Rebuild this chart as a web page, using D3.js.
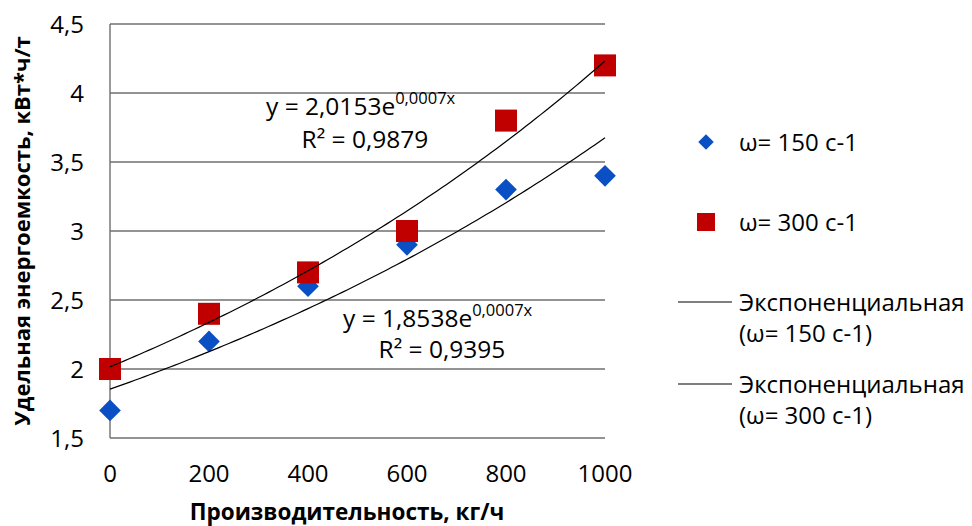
<!DOCTYPE html>
<meta charset="utf-8">
<html>
<head>
<style>
  body { margin: 0; background: #fff; }
  svg text { font-family: "Open Sans", "Noto Sans", sans-serif; fill: #000; }
</style>
</head>
<body>
<div id="chart"></div>
<script src="https://d3js.org/d3.v7.min.js"></script>
<script>

// data
var xValues = [0, 200, 400, 600, 800, 1000];
var w150 = [1.7, 2.2, 2.6, 2.9, 3.3, 3.4];
var w300 = [2.0, 2.4, 2.7, 3.0, 3.8, 4.2];
var yTicks = [1.5, 2, 2.5, 3, 3.5, 4, 4.5];
var xTicks = [0, 200, 400, 600, 800, 1000];
var label150 = ["y = 1,8538e", "0,0007x", "R² = 0,9395"];
var label300 = ["y = 2,0153e", "0,0007x", "R² = 0,9879"];
var legendNames = ["ω= 150 с-1", "ω= 300 с-1", ["Экспоненциальная", "(ω= 150 с-1)"], ["Экспоненциальная", "(ω= 300 с-1)"]];

var W = 972, H = 526;
var plotL = 110, plotR = 605, plotT = 24, plotB = 438;

var svg = d3.select("#chart").append("svg")
    .attr("width", W)
    .attr("height", H);

var x = d3.scaleLinear().domain([0, 1000]).range([plotL, plotR]);
var y = d3.scaleLinear().domain([1.5, 4.5]).range([plotB, plotT]);

// gridlines
svg.append("g")
  .selectAll("line")
  .data(yTicks)
  .enter().append("line")
    .attr("x1", plotL).attr("x2", plotR)
    .attr("y1", function(d) { return y(d); })
    .attr("y2", function(d) { return y(d); })
    .attr("stroke", "#6f6f6f")
    .attr("stroke-width", 1.4);

// left axis line
svg.append("line")
  .attr("x1", plotL).attr("x2", plotL)
  .attr("y1", plotT).attr("y2", plotB)
  .attr("stroke", "#6f6f6f")
  .attr("stroke-width", 1.4);

// y tick labels
svg.append("g")
  .selectAll("text")
  .data(yTicks)
  .enter().append("text")
    .attr("x", 84)
    .attr("y", function(d) { return y(d); })
    .attr("dy", "0.36em")
    .attr("text-anchor", "end")
    .style("font-size", "24px")
    .text(function(d) { return String(d).replace(".", ","); });

// x tick labels
svg.append("g")
  .selectAll("text")
  .data(xTicks)
  .enter().append("text")
    .attr("x", function(d) { return x(d); })
    .attr("y", 482)
    .attr("text-anchor", "middle")
    .style("font-size", "24px")
    .text(function(d) { return d; });

// axis titles
svg.append("text")
  .attr("x", 347)
  .attr("y", 520)
  .attr("text-anchor", "middle")
  .style("font-size", "22.5px")
  .style("font-weight", "bold")
  .text("Производительность, кг/ч");

svg.append("text")
  .attr("transform", "translate(30," + ((plotT + plotB) / 2) + ") rotate(-90)")
  .attr("text-anchor", "middle")
  .style("font-size", "22px")
  .style("font-weight", "bold")
  .text("Удельная энергоемкость, кВт*ч/т");

// markers
var diamond = d3.symbol().type(d3.symbolSquare).size(235);
svg.append("g")
  .selectAll("path")
  .data(w150)
  .enter().append("path")
    .attr("d", diamond)
    .attr("transform", function(d, i) { return "translate(" + x(xValues[i]) + "," + y(d) + ") rotate(45)"; })
    .attr("fill", "#0a4fc4");

svg.append("g")
  .selectAll("rect")
  .data(w300)
  .enter().append("rect")
    .attr("x", function(d, i) { return x(xValues[i]) - 11; })
    .attr("y", function(d) { return y(d) - 11; })
    .attr("width", 22)
    .attr("height", 22)
    .attr("fill", "#c00000");

// exponential trendlines, fitted from the points like the spreadsheet does
function expFit(xs, ys) {
  var ly = ys.map(function(v) { return Math.log(v); });
  var mx = d3.mean(xs), my = d3.mean(ly);
  var sxy = d3.sum(xs, function(v, i) { return (v - mx) * (ly[i] - my); });
  var sxx = d3.sum(xs, function(v) { return (v - mx) * (v - mx); });
  var b = sxy / sxx;
  var a = Math.exp(my - b * mx);
  return function(t) { return a * Math.exp(b * t); };
}

var steps = d3.range(0, 1001, 10);
[w150, w300].forEach(function(series) {
  var f = expFit(xValues, series);
  svg.append("path")
    .datum(steps)
    .attr("fill", "none")
    .attr("stroke", "#000")
    .attr("stroke-width", 1.2)
    .attr("d", d3.line()
      .x(function(d) { return x(d); })
      .y(function(d) { return y(f(d)); }));
});

// equation labels
function eqLabel(lines, x0, y0, x1, y1) {
  var t = svg.append("text")
    .attr("x", x0).attr("y", y0)
    .style("font-size", "24.5px");
  t.append("tspan").text(lines[0]);
  t.append("tspan")
    .attr("dy", -11)
    .style("font-size", "16.5px")
    .text(lines[1]);
  svg.append("text")
    .attr("x", x1).attr("y", y1)
    .attr("text-anchor", "middle")
    .style("font-size", "24.5px")
    .text(lines[2]);
}
eqLabel(label300, 266, 115, 365, 148);
eqLabel(label150, 343, 327, 442, 358);

// legend
var lg = svg.append("g");
lg.append("path")
  .attr("d", d3.symbol().type(d3.symbolSquare).size(120))
  .attr("transform", "translate(706,142) rotate(45)")
  .attr("fill", "#0a4fc4");
lg.append("rect")
  .attr("x", 697).attr("y", 213)
  .attr("width", 18).attr("height", 18)
  .attr("fill", "#c00000");
lg.append("line")
  .attr("x1", 678).attr("x2", 732).attr("y1", 302).attr("y2", 302)
  .attr("stroke", "#000").attr("stroke-width", 1.2);
lg.append("line")
  .attr("x1", 678).attr("x2", 732).attr("y1", 384).attr("y2", 384)
  .attr("stroke", "#000").attr("stroke-width", 1.2);

var legendRows = [
  [legendNames[0], 142],
  [legendNames[1], 222],
  [legendNames[2][0], 302],
  [legendNames[2][1], 333],
  [legendNames[3][0], 384],
  [legendNames[3][1], 415]
];
lg.selectAll("text")
  .data(legendRows)
  .enter().append("text")
    .attr("x", 739)
    .attr("y", function(d) { return d[1]; })
    .attr("dy", "0.36em")
    .style("font-size", "24px")
    .text(function(d) { return d[0]; });

</script>
</body>
</html>
